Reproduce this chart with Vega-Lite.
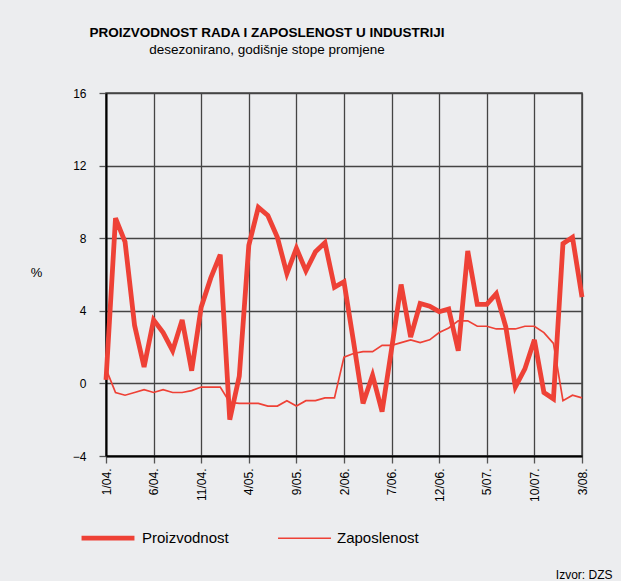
{
  "$schema": "https://vega.github.io/schema/vega-lite/v6.json",
  "width": 476,
  "height": 363,
  "autosize": "none",
  "padding": {"left": 106, "top": 93, "right": 39, "bottom": 125},
  "background": "#ECEDEF",
  "title": {
    "text": "PROIZVODNOST RADA I ZAPOSLENOST U INDUSTRIJI",
    "subtitle": "desezonirano, godišnje stope promjene",
    "anchor": "middle",
    "dx": -77,
    "offset": 31,
    "font": "Liberation Sans",
    "fontSize": 13.5,
    "fontWeight": "bold",
    "color": "#000000",
    "subtitleFont": "Liberation Sans",
    "subtitleFontSize": 13.5,
    "subtitleColor": "#000000",
    "subtitlePadding": 3
  },
  "data": {
    "values": [
      {"mjesec": "1/04.", "Proizvodnost": 0.2, "Zaposlenost": 0.8},
      {"mjesec": "2/04.", "Proizvodnost": 9.1, "Zaposlenost": -0.5},
      {"mjesec": "3/04.", "Proizvodnost": 7.8, "Zaposlenost": -0.65},
      {"mjesec": "4/04.", "Proizvodnost": 3.2, "Zaposlenost": -0.5},
      {"mjesec": "5/04.", "Proizvodnost": 0.9, "Zaposlenost": -0.35},
      {"mjesec": "6/04.", "Proizvodnost": 3.5, "Zaposlenost": -0.5},
      {"mjesec": "7/04.", "Proizvodnost": 2.8, "Zaposlenost": -0.35},
      {"mjesec": "8/04.", "Proizvodnost": 1.8, "Zaposlenost": -0.5},
      {"mjesec": "9/04.", "Proizvodnost": 3.5, "Zaposlenost": -0.5},
      {"mjesec": "10/04.", "Proizvodnost": 0.7, "Zaposlenost": -0.4},
      {"mjesec": "11/04.", "Proizvodnost": 4.2, "Zaposlenost": -0.2},
      {"mjesec": "12/04.", "Proizvodnost": 5.8, "Zaposlenost": -0.2},
      {"mjesec": "1/05.", "Proizvodnost": 7.1, "Zaposlenost": -0.2},
      {"mjesec": "2/05.", "Proizvodnost": -2.0, "Zaposlenost": -1.05},
      {"mjesec": "3/05.", "Proizvodnost": 0.4, "Zaposlenost": -1.1},
      {"mjesec": "4/05.", "Proizvodnost": 7.6, "Zaposlenost": -1.1},
      {"mjesec": "5/05.", "Proizvodnost": 9.7, "Zaposlenost": -1.1},
      {"mjesec": "6/05.", "Proizvodnost": 9.25, "Zaposlenost": -1.25},
      {"mjesec": "7/05.", "Proizvodnost": 8.05, "Zaposlenost": -1.25},
      {"mjesec": "8/05.", "Proizvodnost": 6.05, "Zaposlenost": -0.95},
      {"mjesec": "9/05.", "Proizvodnost": 7.45, "Zaposlenost": -1.25},
      {"mjesec": "10/05.", "Proizvodnost": 6.2, "Zaposlenost": -0.95},
      {"mjesec": "11/05.", "Proizvodnost": 7.25, "Zaposlenost": -0.95},
      {"mjesec": "12/05.", "Proizvodnost": 7.75, "Zaposlenost": -0.8},
      {"mjesec": "1/06.", "Proizvodnost": 5.3, "Zaposlenost": -0.8},
      {"mjesec": "2/06.", "Proizvodnost": 5.6, "Zaposlenost": 1.45},
      {"mjesec": "3/06.", "Proizvodnost": 2.3, "Zaposlenost": 1.65},
      {"mjesec": "4/06.", "Proizvodnost": -1.1, "Zaposlenost": 1.75},
      {"mjesec": "5/06.", "Proizvodnost": 0.45, "Zaposlenost": 1.75},
      {"mjesec": "6/06.", "Proizvodnost": -1.55, "Zaposlenost": 2.1},
      {"mjesec": "7/06.", "Proizvodnost": 1.9, "Zaposlenost": 2.1},
      {"mjesec": "8/06.", "Proizvodnost": 5.45, "Zaposlenost": 2.25},
      {"mjesec": "9/06.", "Proizvodnost": 2.55, "Zaposlenost": 2.4},
      {"mjesec": "10/06.", "Proizvodnost": 4.4, "Zaposlenost": 2.25},
      {"mjesec": "11/06.", "Proizvodnost": 4.25, "Zaposlenost": 2.4},
      {"mjesec": "12/06.", "Proizvodnost": 3.95, "Zaposlenost": 2.8},
      {"mjesec": "1/07.", "Proizvodnost": 4.1, "Zaposlenost": 3.05},
      {"mjesec": "2/07.", "Proizvodnost": 1.8, "Zaposlenost": 3.45},
      {"mjesec": "3/07.", "Proizvodnost": 7.3, "Zaposlenost": 3.45},
      {"mjesec": "4/07.", "Proizvodnost": 4.35, "Zaposlenost": 3.15},
      {"mjesec": "5/07.", "Proizvodnost": 4.35, "Zaposlenost": 3.15},
      {"mjesec": "6/07.", "Proizvodnost": 4.95, "Zaposlenost": 3.0},
      {"mjesec": "7/07.", "Proizvodnost": 3.1, "Zaposlenost": 3.0},
      {"mjesec": "8/07.", "Proizvodnost": -0.2, "Zaposlenost": 3.0},
      {"mjesec": "9/07.", "Proizvodnost": 0.8, "Zaposlenost": 3.15},
      {"mjesec": "10/07.", "Proizvodnost": 2.4, "Zaposlenost": 3.15},
      {"mjesec": "11/07.", "Proizvodnost": -0.5, "Zaposlenost": 2.8},
      {"mjesec": "12/07.", "Proizvodnost": -0.85, "Zaposlenost": 2.2},
      {"mjesec": "1/08.", "Proizvodnost": 7.7, "Zaposlenost": -0.95},
      {"mjesec": "2/08.", "Proizvodnost": 8.05, "Zaposlenost": -0.65},
      {"mjesec": "3/08.", "Proizvodnost": 4.75, "Zaposlenost": -0.8}
    ]
  },
  "transform": [
    {"fold": ["Proizvodnost", "Zaposlenost"], "as": ["serija", "vrijednost"]}
  ],
  "encoding": {
    "x": {
      "field": "mjesec",
      "type": "ordinal",
      "sort": null,
      "scale": {"type": "point", "padding": 0},
      "axis": {
        "values": ["1/04.", "6/04.", "11/04.", "4/05.", "9/05.", "2/06.", "7/06.", "12/06.", "5/07.", "10/07.", "3/08."],
        "labelAngle": 270,
        "labelAlign": "right",
        "labelBaseline": "middle",
        "labelPadding": 5,
        "title": "Izvor: DZS",
        "titleAngle": 0,
        "titleAnchor": "end",
        "titleAlign": "right",
        "titleBaseline": "alphabetic",
        "titleX": 506,
        "titleY": 122,
        "titleFontWeight": "normal",
        "titleFontSize": 12,
        "grid": true
      }
    }
  },
  "layer": [
    {
      "mark": {"type": "rule", "color": "#000000", "strokeWidth": 2.5},
      "encoding": {"y": {"datum": 0, "type": "quantitative"}}
    },
    {
      "mark": {"type": "line", "strokeJoin": "miter", "strokeCap": "butt"},
      "encoding": {
        "y": {
          "field": "vrijednost",
          "type": "quantitative",
          "scale": {"domain": [-4, 16], "nice": false, "zero": false},
          "axis": {
            "values": [-4, 0, 4, 8, 12, 16],
            "title": "%",
            "titleAngle": 0,
            "titleAlign": "center",
            "titleBaseline": "middle",
            "titleX": -70,
            "titleY": 179,
            "titleFontWeight": "normal",
            "titleFontSize": 13,
            "labelPadding": 13,
            "grid": true
          }
        },
        "color": {
          "field": "serija",
          "type": "nominal",
          "scale": {"domain": ["Proizvodnost", "Zaposlenost"], "range": ["#EE4136", "#EE4136"]},
          "legend": {
            "title": null,
            "orient": "none",
            "direction": "horizontal",
            "legendX": -27,
            "legendY": 416,
            "symbolType": "stroke",
            "symbolSize": 2800,
            "labelFontSize": 15,
            "labelColor": "#000000",
            "labelOffset": 5,
            "columnPadding": 45
          }
        },
        "strokeWidth": {
          "field": "serija",
          "type": "nominal",
          "scale": {"domain": ["Proizvodnost", "Zaposlenost"], "range": [4.8, 1.7]},
          "legend": {
            "title": null,
            "orient": "none",
            "direction": "horizontal",
            "legendX": -27,
            "legendY": 416,
            "symbolType": "stroke",
            "symbolSize": 2800,
            "labelFontSize": 15,
            "labelColor": "#000000",
            "labelOffset": 5,
            "columnPadding": 45
          }
        }
      }
    }
  ],
  "config": {
    "font": "Liberation Sans",
    "view": {"stroke": "#444444", "strokeWidth": 1.5},
    "axis": {
      "domainColor": "#000000",
      "domainWidth": 2,
      "gridColor": "#444444",
      "gridWidth": 1.3,
      "gridOpacity": 1,
      "tickColor": "#555555",
      "tickSize": 7,
      "tickWidth": 1.3,
      "labelColor": "#000000",
      "labelFontSize": 12,
      "labelFont": "Liberation Sans",
      "titleColor": "#000000",
      "titleFont": "Liberation Sans"
    }
  }
}
